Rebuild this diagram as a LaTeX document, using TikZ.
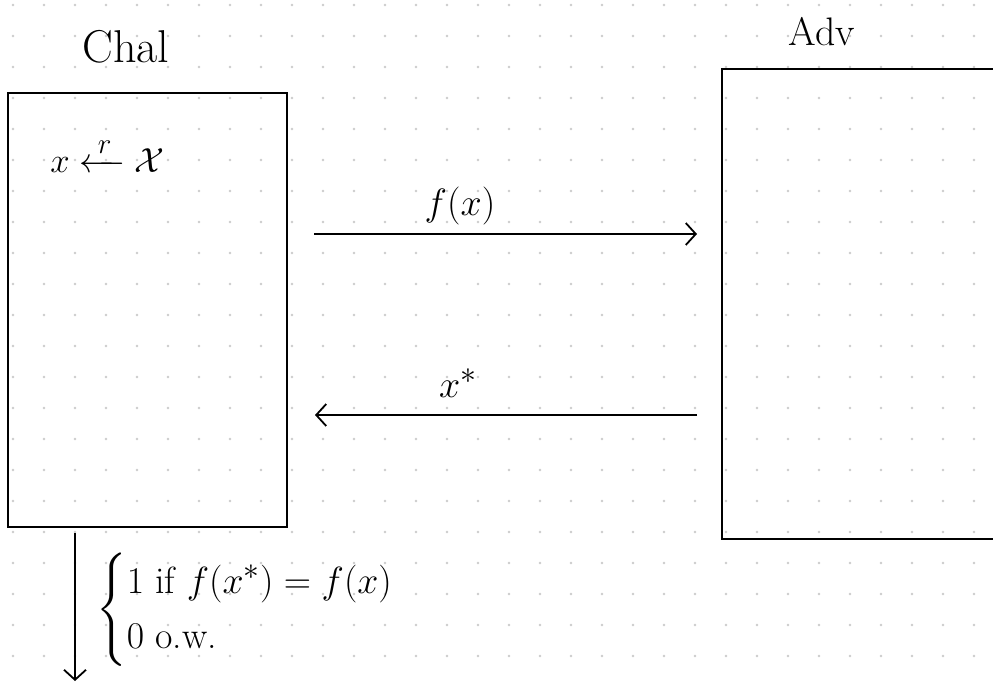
\documentclass[tikz,border=0pt]{standalone}
\usepackage{amsmath}
\usetikzlibrary{arrows.meta}
\begin{document}
\begin{tikzpicture}[x=1pt,y=-1pt,
  box/.style={draw=black,line width=2.2pt,minimum width=#1,inner sep=0pt},
  msg/.style={line width=1.8pt,-{Straight Barb[length=10pt,width=22pt,line width=1.8pt]}},
  lbl/.style={font=\Huge,inner sep=0pt,scale=#1},
  lbl/.default=1.53]
\useasboundingbox (0,0) rectangle (993,683);
\clip (0,0) rectangle (993,683);
\fill[white] (0,0) rectangle (993,683);
% dot grid
\foreach \i in {0,...,32} {
  \foreach \j in {0,...,21} {
    \fill[black!20] (13+31*\i,5+31*\j) circle (1.3pt);
  }
}
% boxes
\node[box=279pt,minimum height=434pt] (chal) at (147.5,310) {};
\node[box=300pt,minimum height=470pt] (adv) at (872,304) {};
% titles
\node[lbl=1.85] (chalt) at (126,47) {Chal};
\node[lbl=1.6] (advt) at (822,32) {Adv};
% sampling
\node[lbl=1.4,anchor=west] (samp) at (50,155) {$x \xleftarrow{\,r\,} \mathcal{X}$};
% messages
\coordinate (a1) at (314,234);
\coordinate (a2) at (697,234);
\coordinate (b1) at (697,415);
\coordinate (b2) at (315,415);
\draw[msg] (a1) -- (a2);
\draw[msg] (b1) -- (b2);
\node[lbl] (fx) at (460,206) {$f(x)$};
\node[lbl] (xs) at (458,383) {$x^{*}$};
% output
\coordinate (o1) at (75,533);
\coordinate (o2) at (75,681);
\draw[msg] (o1) -- (o2);
\node[lbl=1.52,anchor=west] (out) at (96,610) {$\begin{cases} 1 \text{ if } f(x^{*}) = f(x)\\ 0 \text{ o.w.}\end{cases}$};
\end{tikzpicture}
\end{document}
